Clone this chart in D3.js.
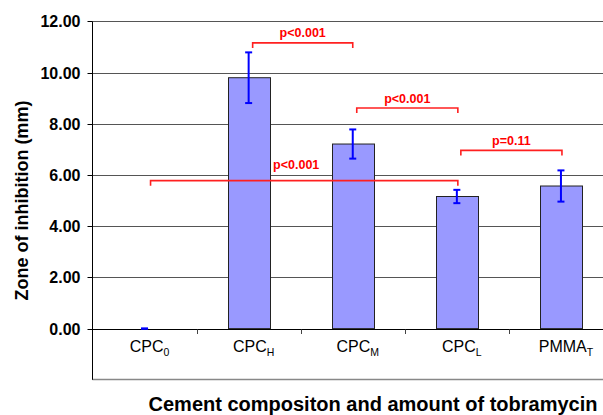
<!DOCTYPE html>
<html>
<head>
<meta charset="utf-8">
<script src="https://cdn.jsdelivr.net/npm/d3@7"></script>
<style>
  body { margin: 0; background: #fff; }
  text { font-family: Arial, "Liberation Sans", sans-serif; }
</style>
</head>
<body>
<svg id="svg"></svg>
<script>
// chart data
var groups = ["CPC0", "CPCH", "CPCM", "CPCL", "PMMAT"];
var groupBase = ["CPC", "CPC", "CPC", "CPC", "PMMA"];
var groupSub = ["0", "H", "M", "L", "T"];
var means = [0, 9.8, 7.21, 5.16, 5.57];
var errors = [0, 0.99, 0.57, 0.26, 0.61];
var yTicks = [0, 2, 4, 6, 8, 10, 12];

// significance brackets: from group, to group, height (mm), label
var bracketFrom = ["CPCH", "CPCM", "CPCL", "CPC0"];
var bracketTo = ["CPCM", "CPCL", "PMMAT", "CPCL"];
var bracketLevel = [11.16, 8.62, 6.96, 5.78];
var bracketLabel = ["p<0.001", "p<0.001", "p=0.11", "p<0.001"];

var width = 603, height = 415;
var svg = d3.select("#svg").attr("width", width).attr("height", height);

var x = d3.scaleBand()
    .domain(groups)
    .range([92.5, 613])
    .paddingInner(0.6)
    .paddingOuter(0.3);

var y = d3.scaleLinear()
    .domain([-2, 12])
    .range([379.8, 21.4]);

function center(g) { return x(g) + x.bandwidth() / 2; }

// horizontal grid
svg.append("g").selectAll("line")
    .data(yTicks)
    .enter().append("line")
    .attr("x1", 92.5).attr("x2", width)
    .attr("y1", function(d) { return Math.round(y(d)) + 0.5; })
    .attr("y2", function(d) { return Math.round(y(d)) + 0.5; })
    .attr("stroke", function(d) { return d == 0 ? "#000" : "#555"; })
    .attr("stroke-width", 1);

// bottom edge of plot area
svg.append("line")
    .attr("x1", 92.5).attr("x2", width)
    .attr("y1", Math.round(y(-2)) - 0.5).attr("y2", Math.round(y(-2)) - 0.5)
    .attr("stroke", "#888").attr("stroke-width", 1.5);

// y axis
var yAxis = d3.axisLeft(y)
    .tickValues(yTicks)
    .tickSize(5)
    .tickPadding(7)
    .tickFormat(d3.format(".2f"));

var ya = svg.append("g")
    .attr("transform", "translate(92.5,0)")
    .call(yAxis);
ya.select(".domain").attr("stroke", "#000").attr("d", "M-0,21.4V379.8");
ya.selectAll(".tick line").attr("stroke", "#000");
ya.selectAll(".tick text")
    .attr("font-size", "16px")
    .attr("font-weight", "bold")
    .attr("fill", "#000")
    .attr("font-family", "Arial, 'Liberation Sans', sans-serif");
ya.selectAll(".tick")
    .attr("transform", function(d) { return "translate(0," + (Math.round(y(d)) + 0.5) + ")"; });

// category separators below zero line
svg.append("g").selectAll("line")
    .data(groups.slice(1))
    .enter().append("line")
    .attr("x1", function(d) { return Math.round(x(d) - x.step() * 0.3) + 0.5; })
    .attr("x2", function(d) { return Math.round(x(d) - x.step() * 0.3) + 0.5; })
    .attr("y1", Math.round(y(0)) + 0.5)
    .attr("y2", Math.round(y(0)) + 5)
    .attr("stroke", "#444");

// bars
svg.append("g").selectAll("rect")
    .data(groups)
    .enter().append("rect")
    .attr("x", function(d) { return Math.round(x(d)) + 0.5; })
    .attr("width", Math.round(x.bandwidth()))
    .attr("y", function(d, i) { return y(means[i]); })
    .attr("height", function(d, i) { return y(0) - y(means[i]); })
    .attr("fill", "#9999ff")
    .attr("stroke", "#222")
    .attr("stroke-width", function(d, i) { return means[i] > 0 ? 1 : 0; });

// error bars
var eb = svg.append("g").attr("stroke", "#0000ff").attr("stroke-width", 2);
groups.forEach(function(g, i) {
    var cx = center(g);
    var top = y(means[i] + errors[i]), bot = y(means[i] - errors[i]);
    eb.append("line").attr("x1", cx).attr("x2", cx).attr("y1", top).attr("y2", bot);
    eb.append("line").attr("x1", cx - 3.5).attr("x2", cx + 3.5).attr("y1", top).attr("y2", top);
    eb.append("line").attr("x1", cx - 3.5).attr("x2", cx + 3.5).attr("y1", bot).attr("y2", bot);
});

// x category labels with subscripts
var xl = svg.append("g").selectAll("text")
    .data(groups)
    .enter().append("text")
    .attr("x", function(d) { return center(d) + 5; })
    .attr("y", 352)
    .attr("text-anchor", "middle")
    .attr("font-size", "16px")
    .attr("fill", "#000");
xl.append("tspan").text(function(d, i) { return groupBase[i]; });
xl.append("tspan")
    .attr("font-size", "10.5px")
    .attr("dy", 4)
    .text(function(d, i) { return groupSub[i]; });

// significance brackets
var labelRaise = [5.5, 5, 5, 11.5];
var labelShift = [0, 0, 0, -8];
var br = svg.append("g");
bracketFrom.forEach(function(f, i) {
    var x1 = center(f) + (i == 3 ? 6 : 4), x2 = center(bracketTo[i]) + (i == 0 ? 0 : 1);
    var by = y(bracketLevel[i]);
    br.append("path")
        .attr("d", "M" + x1 + "," + (by + 5) + "V" + by + "H" + x2 + "V" + (by + 5))
        .attr("fill", "none")
        .attr("stroke", "#ff2020")
        .attr("stroke-width", 1.6);
    br.append("text")
        .attr("x", (x1 + x2) / 2 + labelShift[i])
        .attr("y", by - labelRaise[i])
        .attr("text-anchor", "middle")
        .attr("font-size", "12.5px")
        .attr("font-weight", "bold")
        .attr("fill", "#ff0000")
        .text(bracketLabel[i]);
});

// axis titles
svg.append("text")
    .attr("transform", "translate(28," + y(5) + ") rotate(-90)")
    .attr("text-anchor", "middle")
    .attr("font-size", "18px")
    .attr("font-weight", "bold")
    .text("Zone of inhibition (mm)");

svg.append("text")
    .attr("x", 373)
    .attr("y", 411)
    .attr("text-anchor", "middle")
    .attr("font-size", "20px")
    .attr("font-weight", "bold")
    .text("Cement compositon and amount of tobramycin");
</script>
</body>
</html>
